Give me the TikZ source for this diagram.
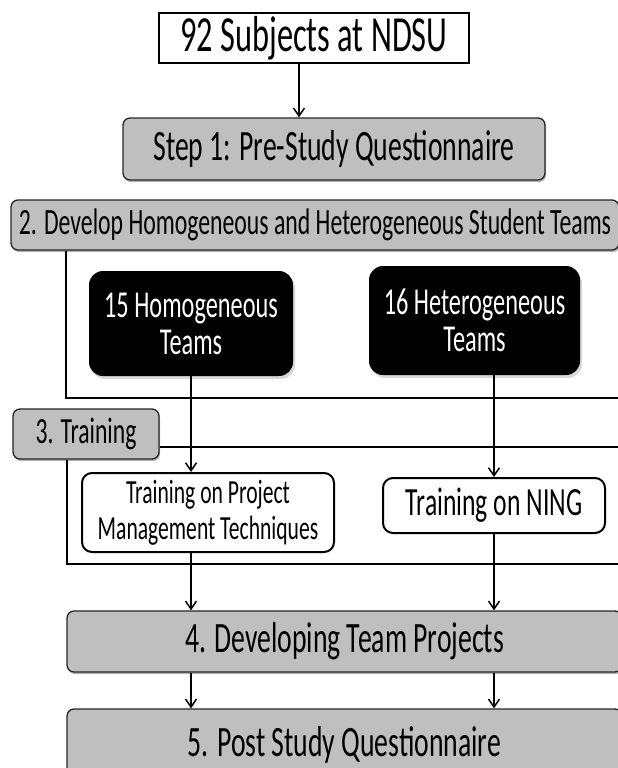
\documentclass[tikz,border=0pt]{standalone}
\usepackage{fontspec}
\setmainfont{Carlito}[FakeStretch=0.64]
\usepackage{tikz}
\usetikzlibrary{arrows.meta, shadows}
\tikzset{
  sz/.style 2 args={font=\fontsize{#1}{#2}\selectfont},
  mulai/.style={rectangle, draw, line width=2pt, fill=white, inner sep=0pt, align=center},
  tahap/.style={rectangle, rounded corners=7pt, draw=black!85, line width=1.3pt,
    fill=black!25, inner sep=0pt, align=center,
    drop shadow={shadow xshift=1pt, shadow yshift=-2pt, fill=black!60}},
  tim/.style={rectangle, rounded corners=14pt, fill=black, text=white, inner sep=0pt,
    align=center, drop shadow={shadow xshift=2pt, shadow yshift=-3pt, fill=black!30}},
  latih/.style={rectangle, rounded corners=10pt, draw, line width=2pt, fill=white,
    inner sep=0pt, align=center},
  bingkai/.style={line width=2.2pt},
  panah/.style={-{Straight Barb[length=8pt, width=11pt]}, line width=1.5pt}
}

\begin{document}
\begin{tikzpicture}[x=1pt, y=-1pt]
  \clip (0,0) rectangle (618,768);
  \node[mulai, sz={50.6}{55}, minimum width=310pt, minimum height=50pt] (subj) at (314,38) {92 Subjects at NDSU};
  \node[tahap, sz={43.3}{48}, minimum width=422pt, minimum height=62pt] (s1) at (334,149) {Step 1: Pre-Study Questionnaire};
  \node[tahap, sz={37.1}{40}, minimum width=608pt, minimum height=50pt] (s2) at (315,225) {2. Develop Homogeneous and Heterogeneous Student Teams};
  \node[tim, sz={38}{37}, minimum width=204pt, minimum height=105pt] (homo) at (191,323.5) {15 Homogeneous\\Teams};
  \node[tim, sz={38}{37}, minimum width=211pt, minimum height=109pt] (hetero) at (474.5,320.5) {16 Heterogeneous\\Teams};
  \node[tahap, sz={36.9}{40}, minimum width=146pt, minimum height=50pt] (s3) at (86,434) {3. Training};
  \node[latih, sz={33.75}{36}, minimum width=252pt, minimum height=79pt] (pm) at (208,512.5) {Training on Project\\Management Techniques};
  \node[latih, sz={40}{44}, minimum width=222pt, minimum height=55pt] (ning) at (494,505.5) {Training on NING};
  \node[tahap, sz={43.3}{48}, minimum width=555pt, minimum height=61pt] (s4) at (344.5,641.5) {4. Developing Team Projects};
  \node[tahap, sz={43.3}{48}, minimum width=555pt, minimum height=71pt] (s5) at (344.5,744.5) {5. Post Study Questionnaire};

  % open frames under steps 2 and 3
  \coordinate (kanan2) at (620,398);
  \coordinate (kanan3) at (620,447);
  \coordinate (kanan3b) at (620,564);
  \draw[bingkai] ([xshift=56pt]s2.south west) |- (kanan2);
  \draw[bingkai] (s3.east |- kanan3) -- (kanan3);
  \draw[bingkai] ([xshift=55pt]s3.south west) |- (kanan3b);

  \draw[panah] ([xshift=-15pt]subj.south) -- ([xshift=-15pt]subj.south |- s1.north);
  \draw[panah] (homo.south) -- (homo.south |- pm.north);
  \draw[panah] (hetero.south -| ning.north) -- (ning.north);
  \draw[panah] (pm.south -| homo.south) -- (s4.north -| homo.south);
  \draw[panah] (ning.south) -- (ning.south |- s4.north);
  \draw[panah] (s4.south -| homo.south) -- (s5.north -| homo.south);
  \draw[panah] (s4.south -| ning.south) -- (s5.north -| ning.south);
\end{tikzpicture}
\end{document}
